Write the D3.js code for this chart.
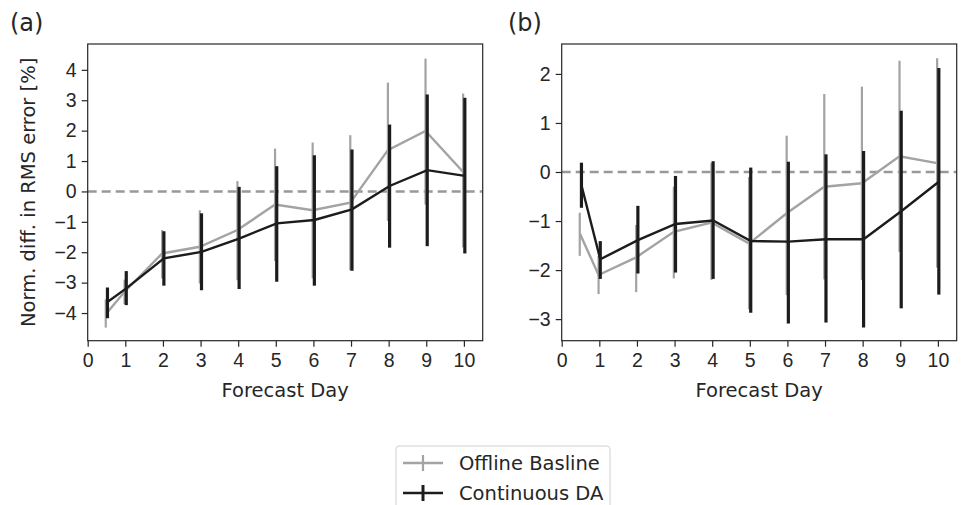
<!DOCTYPE html>
<html>
<head>
<meta charset="utf-8">
<script src="https://cdn.jsdelivr.net/npm/d3@7"></script>
<style>
  body { margin: 0; background: #fff; }
  svg { display: block; font-family: "DejaVu Sans", sans-serif; }
  .tick text { font-size: 19.5px; fill: #262626; }
  .tick line { stroke: #262626; stroke-width: 1.2; }
</style>
</head>
<body>
<svg width="963" height="505"></svg>
<script>
'use strict';

// forecast days of each point
const days = [0.5, 1, 2, 3, 4, 5, 6, 7, 8, 9, 10];
const xTicks = [0, 1, 2, 3, 4, 5, 6, 7, 8, 9, 10];

// panel (a)
const offlineA     = [-4.04, -3.30, -2.04, -1.82, -1.27, -0.43, -0.62, -0.37, 1.36, 1.99, 0.64];
const offlineALow  = [-4.48, -3.71, -2.86, -3.03, -2.92, -2.29, -2.86, -2.59, -0.97, -0.43, -1.84];
const offlineAHigh = [-3.55, -2.90, -1.27, -0.62, 0.34, 1.41, 1.61, 1.85, 3.58, 4.37, 3.22];
const contA        = [-3.64, -3.19, -2.20, -1.99, -1.55, -1.05, -0.94, -0.59, 0.18, 0.70, 0.51];
const contALow     = [-4.17, -3.74, -3.10, -3.25, -3.21, -2.97, -3.10, -2.61, -1.85, -1.80, -2.04];
const contAHigh    = [-3.16, -2.62, -1.31, -0.72, 0.15, 0.83, 1.19, 1.38, 2.20, 3.19, 3.08];
const yTicksA = [-4, -3, -2, -1, 0, 1, 2, 3, 4];

// panel (b)
const offlineB     = [-1.25, -2.10, -1.74, -1.22, -1.03, -1.46, -0.84, -0.30, -0.23, 0.32, 0.18];
const offlineBLow  = [-1.71, -2.49, -2.45, -2.17, -2.20, -2.80, -2.51, -2.19, -2.20, -1.63, -1.95];
const offlineBHigh = [-0.83, -1.71, -1.08, -0.30, 0.18, -0.10, 0.74, 1.59, 1.74, 2.27, 2.32];
const contB        = [-0.27, -1.78, -1.39, -1.06, -0.99, -1.41, -1.42, -1.37, -1.37, -0.80, -0.20];
const contBLow     = [-0.73, -2.18, -2.07, -2.05, -2.18, -2.87, -3.09, -3.07, -3.17, -2.78, -2.50];
const contBHigh    = [0.19, -1.41, -0.69, -0.08, 0.22, 0.09, 0.21, 0.36, 0.43, 1.25, 2.12];
const yTicksB = [-3, -2, -1, 0, 1, 2];

const grey = "#a3a3a3",
      black = "#1c1c1c";

let svg = d3.select("svg");

function drawPanel(opts) {
    let x = d3.scaleLinear().domain([0, 10.5]).range([opts.left, opts.left + 395]);
    let y = d3.scaleLinear().domain(opts.yDomain).range([340.7, 44]);
    let g = svg.append("g");

    // zero reference
    g.append("line")
        .attr("x1", x(0)).attr("x2", x(10.5))
        .attr("y1", y(0)).attr("y2", y(0))
        .style("stroke", "#999")
        .style("stroke-width", 2.4)
        .style("stroke-dasharray", "9,5");

    let series = [
        {mean: opts.offline, low: opts.offlineLow, high: opts.offlineHigh, color: grey, shift: -0.02, bar: 2.2},
        {mean: opts.cont, low: opts.contLow, high: opts.contHigh, color: black, shift: 0.025, bar: 3.2}
    ];

    series.forEach(function(s) {
        let pts = days.map(function(d, i) {
            return {x: d + s.shift, v: s.mean[i], lo: s.low[i], hi: s.high[i]};
        });
        let line = d3.line()
            .x(function(d) { return x(d.x); })
            .y(function(d) { return y(d.v); });
        g.append("path")
            .datum(pts)
            .attr("d", line)
            .style("fill", "none")
            .style("stroke", s.color)
            .style("stroke-width", 2.4);
        g.selectAll(null)
            .data(pts)
            .enter().append("line")
            .attr("x1", function(d) { return x(d.x); })
            .attr("x2", function(d) { return x(d.x); })
            .attr("y1", function(d) { return y(d.lo); })
            .attr("y2", function(d) { return y(d.hi); })
            .style("stroke", s.color)
            .style("stroke-width", s.bar);
    });

    // frame
    g.append("rect")
        .attr("x", x(0)).attr("y", 44)
        .attr("width", x(10.5) - x(0)).attr("height", 340.7 - 44)
        .style("fill", "none")
        .style("stroke", "#262626")
        .style("stroke-width", 1.2);

    let xAxis = g.append("g")
        .attr("transform", "translate(0,340.7)")
        .call(d3.axisBottom(x).tickValues(xTicks).tickFormat(d3.format("d")).tickSize(6).tickPadding(5));
    xAxis.select(".domain").remove();
    xAxis.selectAll(".tick text").attr("dy", "0.76em");

    let yAxis = g.append("g")
        .attr("transform", "translate(" + x(0) + ",0)")
        .call(d3.axisLeft(y).tickValues(opts.yTicks).tickFormat(d3.format("d")).tickSize(6).tickPadding(5));
    yAxis.select(".domain").remove();

    g.append("text")
        .attr("x", (x(0) + x(10.5)) / 2)
        .attr("y", 397)
        .attr("text-anchor", "middle")
        .style("font-size", "19.5px")
        .style("fill", "#262626")
        .text("Forecast Day");

    g.append("text")
        .attr("x", opts.labelX)
        .attr("y", 31)
        .style("font-size", "24px")
        .style("fill", "#262626")
        .text(opts.label);

    if (opts.yLabel) {
        g.append("text")
            .attr("transform", "translate(34.5," + ((44 + 340.7) / 2) + ") rotate(-90)")
            .attr("text-anchor", "middle")
            .style("font-size", "19.5px")
            .style("fill", "#262626")
            .text(opts.yLabel);
    }
}

drawPanel({
    left: 87.7, yDomain: [-4.91, 4.85], yTicks: yTicksA,
    offline: offlineA, offlineLow: offlineALow, offlineHigh: offlineAHigh,
    cont: contA, contLow: contALow, contHigh: contAHigh,
    label: "(a)", labelX: 10, yLabel: "Norm. diff. in RMS error [%]"
});

drawPanel({
    left: 561.7, yDomain: [-3.44, 2.61], yTicks: yTicksB,
    offline: offlineB, offlineLow: offlineBLow, offlineHigh: offlineBHigh,
    cont: contB, contLow: contBLow, contHigh: contBHigh,
    label: "(b)", labelX: 508
});

// legend
let legend = svg.append("g");
legend.append("rect")
    .attr("x", 396).attr("y", 446)
    .attr("width", 214).attr("height", 75)
    .attr("rx", 3)
    .style("fill", "#fff")
    .style("stroke", "#d0d0d0")
    .style("stroke-width", 1);

[{name: "Offline Basline", color: grey, w: 2.2}, {name: "Continuous DA", color: black, w: 3}]
    .forEach(function(d, i) {
        let cy = 463 + i * 30;
        legend.append("line")
            .attr("x1", 403).attr("x2", 443).attr("y1", cy).attr("y2", cy)
            .style("stroke", d.color).style("stroke-width", 2.4);
        legend.append("line")
            .attr("x1", 423).attr("x2", 423).attr("y1", cy - 8).attr("y2", cy + 8)
            .style("stroke", d.color).style("stroke-width", d.w);
        legend.append("text")
            .attr("x", 459).attr("y", cy + 7)
            .style("font-size", "19.5px")
            .style("fill", "#262626")
            .text(d.name);
    });
</script>
</body>
</html>
